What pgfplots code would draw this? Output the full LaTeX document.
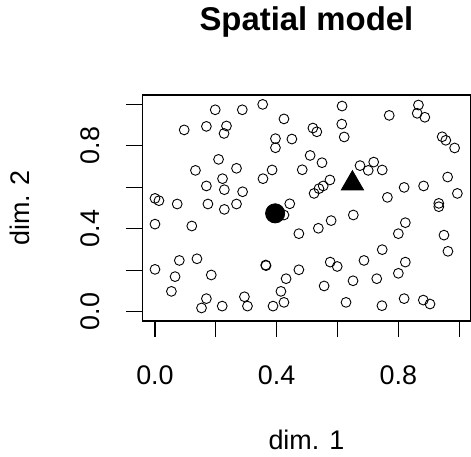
\documentclass[border=0pt]{standalone}
\usepackage{fontspec}
\setmainfont{Liberation Sans}
\usepackage{pgfplots}
\pgfplotsset{compat=1.18}
\begin{document}
\begin{tikzpicture}[x=1bp,y=1bp]
\path[use as bounding box] (0,0) rectangle (471,457);
\begin{axis}[
  at={(142.3bp,136bp)}, anchor=south west,
  scale only axis, width=328.2bp, height=226bp,
  xmin=-0.0417, xmax=1.0372, ymin=-0.0448, ymax=1.0443,
  xtick={0,0.2,0.4,0.6,0.8,1.0}, xticklabels={0.0,,0.4,,0.8,},
  ytick={0,0.2,0.4,0.6,0.8,1.0}, yticklabels={0.0,,0.4,,0.8,},
  xtick pos=bottom, ytick pos=left,
  tick align=outside, major tick length=16bp,
  major tick style={line width=1.1bp, black},
  axis line style={line width=1.1bp, black},
  /pgf/number format/assume math mode=true,
  tick label style={font=\fontsize{27}{32}\selectfont},
  xticklabel style={anchor=base, yshift=-47bp},
  yticklabel style={xshift=-27bp, rotate=90, anchor=base},
  title={Spatial model},
  title style={at={(axis description cs:0.5,1.258)}, anchor=base, font=\bfseries\fontsize{33}{40}\selectfont},
  xlabel={dim. 1},
  xlabel style={at={(axis description cs:0.5,-0.570)}, anchor=base, inner sep=0pt, font=\fontsize{27}{32}\selectfont},
  ylabel={dim. 2},
  ylabel style={at={(axis description cs:-0.344,0.5)}, anchor=base, inner sep=0pt, font=\fontsize{27}{32}\selectfont},
]
\addplot[only marks, mark=o, mark size=4.9bp, mark options={line width=0.9bp, black}] coordinates {
(0.354,0.999) (0.198,0.973) (0.287,0.973) (0.615,0.991) (0.866,0.996)
(0.862,0.956) (0.887,0.937) (0.770,0.946) (0.424,0.929) (0.096,0.876)
(0.169,0.893) (0.235,0.895) (0.227,0.859) (0.614,0.904) (0.519,0.885)
(0.532,0.867) (0.622,0.842) (0.396,0.834) (0.450,0.832) (0.396,0.790)
(0.944,0.843) (0.956,0.826) (0.985,0.789) (0.209,0.734) (0.510,0.753)
(0.549,0.718) (0.674,0.704) (0.719,0.721) (0.701,0.681) (0.747,0.683)
(0.133,0.681) (0.268,0.691) (0.385,0.683) (0.484,0.684) (0.222,0.641)
(0.355,0.641) (0.169,0.606) (0.228,0.588) (0.288,0.578) (0.523,0.570)
(0.539,0.593) (0.553,0.606) (0.575,0.635) (0.819,0.599) (0.883,0.606)
(0.962,0.649) (0.994,0.570) (0.764,0.551) (0.000,0.546) (0.013,0.535)
(0.073,0.519) (0.174,0.519) (0.268,0.519) (0.228,0.493) (0.443,0.520)
(0.933,0.522) (0.933,0.506) (0.424,0.466) (0.652,0.466) (0.000,0.422)
(0.121,0.413) (0.473,0.376) (0.537,0.402) (0.579,0.439) (0.823,0.429)
(0.800,0.376) (0.950,0.369) (0.963,0.291) (0.747,0.299) (0.080,0.247)
(0.138,0.255) (0.000,0.204) (0.066,0.169) (0.185,0.177) (0.364,0.225)
(0.365,0.222) (0.473,0.202) (0.576,0.239) (0.599,0.218) (0.687,0.247)
(0.823,0.239) (0.800,0.185) (0.431,0.159) (0.651,0.149) (0.729,0.159)
(0.054,0.098) (0.556,0.124) (0.414,0.098) (0.169,0.063) (0.294,0.072)
(0.819,0.063) (0.153,0.018) (0.221,0.027) (0.304,0.027) (0.388,0.027)
(0.424,0.045) (0.628,0.045) (0.746,0.029) (0.882,0.056) (0.904,0.037)
};
\addplot[only marks, mark=*, mark size=9.6bp, mark options={black, fill=black, line width=0.8bp}] coordinates {(0.395,0.474)};
\addplot[only marks, mark=triangle*, mark size=12.8bp, mark options={black, fill=black, line width=0.8bp}] coordinates {(0.649,0.618)};
\end{axis}
\end{tikzpicture}
\end{document}
